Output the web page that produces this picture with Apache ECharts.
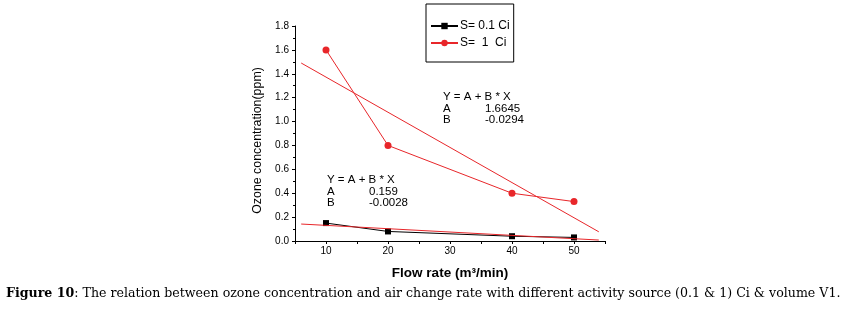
<!DOCTYPE html>
<html>
<head>
<meta charset="utf-8">
<script src="https://cdn.jsdelivr.net/npm/echarts@6/dist/echarts.min.js"></script>
<style>
  html, body { margin: 0; padding: 0; background: #fff; }
  #chart { width: 860px; height: 311px; }
</style>
</head>
<body>
<div id="chart"></div>
<script>
// flow rate (m3/min)
var flowRate = [10, 20, 40, 50];
// ozone concentration (ppm)
var s01 = [0.15, 0.08, 0.04, 0.03];
var s1 = [1.6, 0.8, 0.4, 0.33];
// linear fit end points
var fit01 = [[6, 0.142], [54, 0.008]];
var fit1 = [[6, 1.49], [54, 0.077]];
var fitText01 = ['Y = A + B * X', 'A', '0.159', 'B', '-0.0028'];
var fitText1 = ['Y = A + B * X', 'A', '1.6645', 'B', '-0.0294'];
var legendNames = ['S= 0.1 Ci', 'S=  1  Ci'];

function pairs(xs, ys) {
    return xs.map(function (x, i) { return [x, ys[i]]; });
}

var red = '#e8262a';
var txt = { fontFamily: 'Liberation Sans, Arial', fontSize: 11.5, fill: '#000' };

function fitBlock(x, y, t) {
    return [
        { type: 'text', left: x, top: y, style: Object.assign({ text: t[0] }, txt) },
        { type: 'text', left: x, top: y + 11.5, style: Object.assign({ text: t[1] }, txt) },
        { type: 'text', left: x + 42, top: y + 11.5, style: Object.assign({ text: t[2] }, txt) },
        { type: 'text', left: x, top: y + 23, style: Object.assign({ text: t[3] }, txt) },
        { type: 'text', left: x + 42, top: y + 23, style: Object.assign({ text: t[4] }, txt) }
    ];
}

var myChart = echarts.init(document.getElementById('chart'));
myChart.setOption({
    animation: false,
    backgroundColor: '#fff',
    grid: { left: 295, right: 255, top: 26, bottom: 70 },
    legend: {
        data: legendNames,
        orient: 'vertical',
        left: 426,
        top: 4,
        itemWidth: 27,
        itemHeight: 8,
        itemGap: 5,
        padding: [16, 4, 13, 4],
        borderColor: '#000',
        borderWidth: 1,
        textStyle: { fontFamily: 'Liberation Sans, Arial', fontSize: 12, color: '#000', padding: [0, 0, 0, -3] }
    },
    xAxis: {
        type: 'value',
        min: 5,
        max: 55,
        interval: 5,
        name: 'Flow rate (m³/min)',
        nameLocation: 'middle',
        nameGap: 25,
        nameTextStyle: { fontFamily: 'Liberation Sans, Arial', fontSize: 13.5, fontWeight: 'bold', color: '#000' },
        axisLine: { lineStyle: { color: '#000', width: 1 } },
        axisTick: { inside: false, length: 3, lineStyle: { color: '#000' } },
        axisLabel: {
            fontFamily: 'Liberation Sans, Arial', fontSize: 10, color: '#000', margin: 5,
            formatter: function (v) { return v % 10 === 0 ? String(v) : ''; }
        },
        splitLine: { show: false }
    },
    yAxis: {
        type: 'value',
        min: 0,
        max: 1.8,
        interval: 0.2,
        name: 'Ozone concentration(ppm)',
        nameLocation: 'middle',
        nameGap: 31,
        nameTextStyle: { fontFamily: 'Liberation Sans, Arial', fontSize: 12.4, color: '#000', padding: [0, 14, 0, 0] },
        axisLine: { show: true, lineStyle: { color: '#000', width: 1 } },
        axisTick: { show: true, length: 3, lineStyle: { color: '#000' } },
        minorTick: { show: true, splitNumber: 2, length: 2, lineStyle: { color: '#000' } },
        axisLabel: {
            fontFamily: 'Liberation Sans, Arial', fontSize: 10, color: '#000', margin: 6,
            formatter: function (v) { return v.toFixed(1); }
        },
        splitLine: { show: false }
    },
    graphic: fitBlock(443, 91, fitText1).concat(fitBlock(327, 174, fitText01)).concat([
        {
            type: 'text', left: 6, top: 287,
            style: {
                text: '{b|Figure 10}: The relation between ozone concentration and air change rate with different activity source (0.1 & 1) Ci & volume V1.',
                fontFamily: 'DejaVu Serif, serif',
                fontSize: 12.6,
                fill: '#000',
                rich: { b: { fontWeight: 'bold', fontFamily: 'DejaVu Serif, serif', fontSize: 12.6 } }
            }
        }
    ]),
    series: [
        {
            name: legendNames[0],
            type: 'line',
            data: pairs(flowRate, s01),
            symbol: 'rect',
            symbolSize: 6,
            itemStyle: { color: '#000' },
            lineStyle: { color: '#000', width: 1 },
            z: 3
        },
        {
            name: legendNames[1],
            type: 'line',
            data: pairs(flowRate, s1),
            symbol: 'circle',
            symbolSize: 7,
            itemStyle: { color: red },
            lineStyle: { color: red, width: 1 },
            z: 3
        },
        {
            name: 'fit01',
            type: 'line',
            data: fit01,
            symbol: 'none',
            lineStyle: { color: red, width: 1 },
            z: 4
        },
        {
            name: 'fit1',
            type: 'line',
            data: fit1,
            symbol: 'none',
            lineStyle: { color: red, width: 1 },
            z: 4
        }
    ]
});
</script>
</body>
</html>
